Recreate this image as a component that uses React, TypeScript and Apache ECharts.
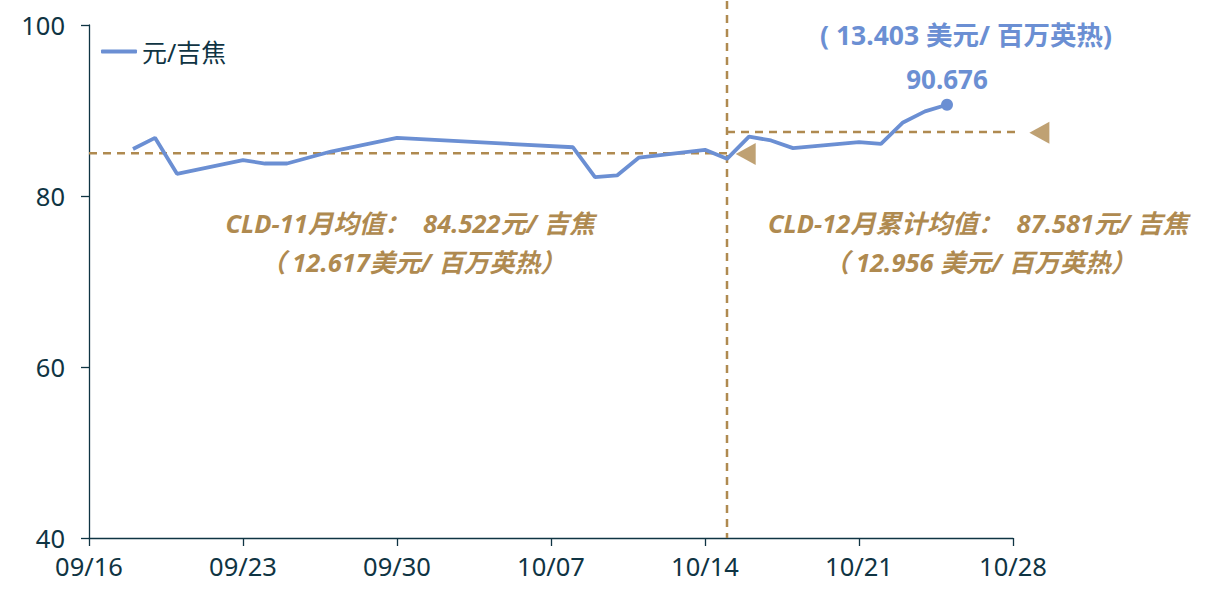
import { useEffect, useRef } from "react";
import * as echarts from "echarts";

const LINE_COLOR = "#6B8FD3";
const GOLD = "#AF8A50";
const AXIS_COLOR = "#0F3443";
const FONT = '"Noto Sans", "Noto Sans CJK SC", sans-serif';

// dates are MM/DD in 2024, x axis counts days from 09/16
const START = Date.UTC(2024, 8, 16);
const DAY = 86400000;

const dates = [
  "09/18", "09/19", "09/20", "09/23", "09/24", "09/25", "09/26", "09/27",
  "09/30", "10/08", "10/09", "10/10", "10/11", "10/14", "10/15", "10/16",
  "10/17", "10/18", "10/21", "10/22", "10/23", "10/24", "10/25",
];
const prices = [
  85.5, 86.8, 82.6, 84.2, 83.8, 83.8, 84.5, 85.2,
  86.8, 85.7, 82.2, 82.4, 84.5, 85.4, 84.35, 86.95,
  86.5, 85.6, 86.3, 86.1, 88.6, 89.9, 90.676,
];

const yTicks = [40, 60, 80, 100];
const xTickDays = 7;
const xMaxDay = 42;

// reference lines (as drawn)
const splitDate = "10/15";
const novAvgLevel = 85.0;
const decAvgLevel = 87.5;
const decLineEndDay = 42.8;
const vLineTop = 102.8;
const markerDays = [29.85, 43.2];
const markerLevels = [84.9, 87.4];

const novText = ["CLD-11月均值：  84.522元/ 吉焦", "（ 12.617美元/ 百万英热）"];
const decText = ["CLD-12月累计均值：  87.581元/ 吉焦", "（ 12.956 美元/ 百万英热）"];
const lastUsdText = "( 13.403 美元/ 百万英热)";

function dayOf(md: string) {
  const [m, d] = md.split("/").map(Number);
  return (Date.UTC(2024, m - 1, d) - START) / DAY;
}

function labelOf(day: number) {
  const dt = new Date(START + day * DAY);
  const mm = String(dt.getUTCMonth() + 1).padStart(2, "0");
  const dd = String(dt.getUTCDate()).padStart(2, "0");
  return `${mm}/${dd}`;
}

export default function App() {
  const ref = useRef<HTMLDivElement>(null);

  useEffect(() => {
    if (!ref.current) return;
    const chart = echarts.init(ref.current, null, { renderer: "svg" });
    const split = dayOf(splitDate);

    const lineData = dates.map((d, i) => {
      const last = i === dates.length - 1;
      return {
        value: [dayOf(d), prices[i]],
        symbol: last ? "circle" : "none",
        symbolSize: 12,
        label: last
          ? {
              show: true,
              position: "top",
              distance: 7,
              formatter: String(prices[i]),
              color: LINE_COLOR,
              fontSize: 26,
              fontWeight: "bold",
              fontFamily: FONT,
            }
          : { show: false },
      };
    });

    const dashed = {
      type: "line",
      symbol: "none",
      silent: true,
      clip: false,
      lineStyle: { color: GOLD, width: 2.5, type: [8, 6] },
    };

    const textStyle = (x: number, y: number, text: string, color: string, size: number, italic: boolean) => ({
      type: "text",
      x,
      y,
      silent: true,
      style: {
        text,
        fill: color,
        fontSize: size,
        fontWeight: "bold",
        fontStyle: italic ? "italic" : "normal",
        fontFamily: FONT,
        textAlign: "center",
        textVerticalAlign: "middle",
      },
    });

    chart.setOption({
      animation: false,
      backgroundColor: "#ffffff",
      grid: { left: 89, right: 207, top: 25, bottom: 74 },
      legend: {
        data: ["元/吉焦"],
        left: 96,
        top: 34,
        icon: "roundRect",
        itemWidth: 36,
        itemHeight: 4,
        itemGap: 10,
        textStyle: { color: AXIS_COLOR, fontSize: 25, fontFamily: FONT },
      },
      xAxis: {
        type: "value",
        min: 0,
        max: xMaxDay,
        interval: xTickDays,
        axisLine: { lineStyle: { color: AXIS_COLOR, width: 1.3 } },
        axisTick: { show: true, length: 8, lineStyle: { color: AXIS_COLOR, width: 1.3 } },
        splitLine: { show: false },
        axisLabel: {
          color: AXIS_COLOR,
          fontSize: 25.5,
          fontFamily: FONT,
          margin: 15,
          formatter: (v: number) => labelOf(v),
        },
      },
      yAxis: {
        type: "value",
        min: yTicks[0],
        max: yTicks[yTicks.length - 1],
        interval: yTicks[1] - yTicks[0],
        axisLine: { show: true, lineStyle: { color: AXIS_COLOR, width: 1.3 } },
        axisTick: { show: true, length: 8, lineStyle: { color: AXIS_COLOR, width: 1.3 } },
        splitLine: { show: false },
        axisLabel: { color: AXIS_COLOR, fontSize: 25.5, fontFamily: FONT, margin: 24 },
      },
      series: [
        {
          ...dashed,
          name: "nov",
          data: [
            [0, novAvgLevel],
            [split, novAvgLevel],
          ],
        },
        {
          ...dashed,
          name: "dec",
          data: [
            [split, decAvgLevel],
            [decLineEndDay, decAvgLevel],
          ],
        },
        {
          ...dashed,
          name: "split",
          data: [
            [split, vLineTop],
            [split, yTicks[0]],
          ],
        },
        {
          name: "marks",
          type: "scatter",
          silent: true,
          clip: false,
          symbol: "triangle",
          symbolRotate: 90,
          symbolSize: [22, 20],
          itemStyle: { color: GOLD },
          data: [
            [markerDays[0], markerLevels[0]],
            [markerDays[1], markerLevels[1]],
          ],
        },
        {
          name: "元/吉焦",
          type: "line",
          showSymbol: true,
          lineStyle: { color: LINE_COLOR, width: 3.8 },
          itemStyle: { color: LINE_COLOR },
          data: lineData,
          z: 5,
        },
      ],
      graphic: [
        textStyle(410, 223, novText[0], GOLD, 25.5, true),
        textStyle(413, 262, novText[1], GOLD, 25.5, true),
        textStyle(978, 223, decText[0], GOLD, 25.5, true),
        textStyle(980, 262, decText[1], GOLD, 25.5, true),
        textStyle(966, 35, lastUsdText, LINE_COLOR, 26.5, false),
      ],
    });

    return () => chart.dispose();
  }, []);

  return (
    <div
      ref={ref}
      style={{ position: "fixed", left: 0, top: 0, width: 1220, height: 612, background: "#fff" }}
    />
  );
}
